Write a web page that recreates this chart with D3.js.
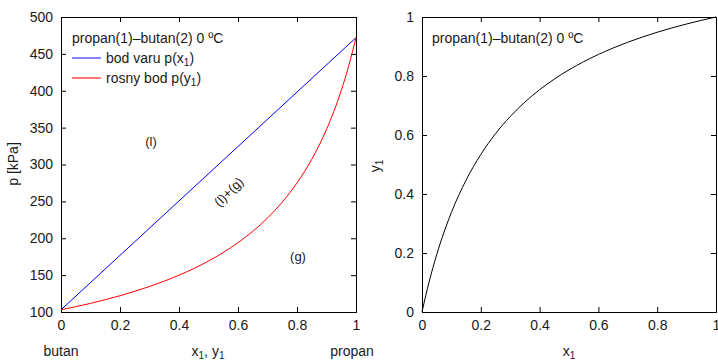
<!DOCTYPE html>
<html>
<head>
<meta charset="utf-8">
<script src="https://cdn.jsdelivr.net/npm/d3@7"></script>
<style>
  body { margin: 0; background: #fff; }
  svg text { font-family: "Liberation Sans", Arial, sans-serif; fill: #1a1a1a; }
</style>
</head>
<body>
<svg id="canvas"></svg>
<script>
// bubble line p(x1): straight line between pure-component pressures [kPa]
let bubbleX = [0, 1];
let bubbleP = [103, 472];

// dew line p(y1)
let dewY = [0, 0.05, 0.1, 0.15, 0.2, 0.25, 0.3, 0.35, 0.4, 0.45, 0.5, 0.55, 0.6, 0.65, 0.7, 0.75, 0.8, 0.85, 0.9, 0.95, 0.975, 1];
let dewP = [103, 107.2, 111.7, 116.7, 122.1, 128.0, 134.6, 141.8, 149.9, 158.9, 169.1, 180.7, 194.0, 209.4, 227.5, 249.0, 275.0, 307.0, 347.5, 400.3, 433.2, 472];

// y1 vs x1 curve
let eqX = [0, 0.0125, 0.025, 0.05, 0.1, 0.15, 0.2, 0.25, 0.3, 0.35, 0.4, 0.45, 0.5, 0.55, 0.6, 0.65, 0.7, 0.75, 0.8, 0.85, 0.9, 0.95, 1];
let eqY = [0, 0.0548, 0.1052, 0.1943, 0.3374, 0.4471, 0.5339, 0.6044, 0.6626, 0.7116, 0.7534, 0.7894, 0.8209, 0.8485, 0.8730, 0.8949, 0.9145, 0.9322, 0.9483, 0.9629, 0.9763, 0.9886, 1];

let xTicks = [0, 0.2, 0.4, 0.6, 0.8, 1];
let pTicks = [100, 150, 200, 250, 300, 350, 400, 450, 500];
let yTicks = [0, 0.2, 0.4, 0.6, 0.8, 1];

let width = 718;
let height = 362;
let fs = 14;

let svg = d3.select('#canvas').attr('width', width).attr('height', height);

let plotTop = 17, plotBottom = 312;

let fmt = (d) => d === 0 || d === 1 ? String(d) : d3.format('.1f')(d);

let drawFrame = (xScale, yScale, yvals, yfmt) => {
  let g = svg.append('g');
  let bx = d3.axisBottom(xScale).tickValues(xTicks).tickFormat(fmt).tickSize(-5).tickPadding(8);
  let tx = d3.axisTop(xScale).tickValues(xTicks).tickFormat('').tickSize(-5);
  let ly = d3.axisLeft(yScale).tickValues(yvals).tickFormat(yfmt).tickSize(-5).tickPadding(8);
  let ry = d3.axisRight(yScale).tickValues(yvals).tickFormat('').tickSize(-5);
  let [x0, x1] = xScale.range();
  g.append('g').attr('transform', 'translate(0,' + plotBottom + ')').call(bx);
  g.append('g').attr('transform', 'translate(0,' + plotTop + ')').call(tx);
  g.append('g').attr('transform', 'translate(' + x0 + ',0)').call(ly);
  g.append('g').attr('transform', 'translate(' + x1 + ',0)').call(ry);
  g.selectAll('.domain').attr('stroke', '#000').attr('stroke-width', 1);
  g.selectAll('.tick line').attr('stroke', '#000');
  g.selectAll('.tick text').attr('font-size', fs).attr('fill', '#1a1a1a')
    .style('font-family', '"Liberation Sans", Arial, sans-serif');
  return g;
};

// ---- left panel: p-x-y diagram
let xL = d3.scaleLinear().domain([0, 1]).range([61, 356]);
let pL = d3.scaleLinear().domain([100, 500]).range([plotBottom, plotTop]);

drawFrame(xL, pL, pTicks, d3.format('d'));

let line = d3.line().x((d) => xL(d[0])).y((d) => pL(d[1]));
let dewLine = d3.line().curve(d3.curveMonotoneX).x((d) => xL(d[0])).y((d) => pL(d[1]));

svg.append('path')
  .datum(bubbleX.map((x, i) => [x, bubbleP[i]]))
  .attr('d', line).attr('fill', 'none').attr('stroke', '#0000ff').attr('stroke-width', 1);

svg.append('path')
  .datum(dewY.map((y, i) => [y, dewP[i]]))
  .attr('d', dewLine).attr('fill', 'none').attr('stroke', '#ff0000').attr('stroke-width', 1);

// legend
svg.append('text').attr('x', 72).attr('y', 43).attr('font-size', fs).text('propan(1)–butan(2) 0 ºC');
svg.append('line').attr('x1', 72).attr('x2', 101).attr('y1', 58).attr('y2', 58).attr('stroke', '#3333ff').attr('stroke-width', 1.2);
let t1 = svg.append('text').attr('x', 106).attr('y', 63).attr('font-size', fs);
t1.append('tspan').text('bod varu p(x');
t1.append('tspan').attr('font-size', 10).attr('dy', 3).text('1');
t1.append('tspan').attr('dy', -3).text(')');
svg.append('line').attr('x1', 72).attr('x2', 101).attr('y1', 78).attr('y2', 78).attr('stroke', '#ff2222').attr('stroke-width', 1.2);
let t2 = svg.append('text').attr('x', 106).attr('y', 83).attr('font-size', fs);
t2.append('tspan').text('rosny bod p(y');
t2.append('tspan').attr('font-size', 10).attr('dy', 3).text('1');
t2.append('tspan').attr('dy', -3).text(')');

// region labels
svg.append('text').attr('x', 151).attr('y', 146).attr('font-size', 13).attr('text-anchor', 'middle').text('(l)');
svg.append('text').attr('transform', 'translate(232,195) rotate(-45)').attr('font-size', 13)
  .attr('text-anchor', 'middle').text('(l)+(g)');
svg.append('text').attr('x', 298).attr('y', 261).attr('font-size', 13).attr('text-anchor', 'middle').text('(g)');

// axis labels
svg.append('text').attr('transform', 'translate(18,164) rotate(-90)').attr('font-size', fs)
  .attr('text-anchor', 'middle').text('p [kPa]');
svg.append('text').attr('x', 61).attr('y', 356).attr('font-size', fs).attr('text-anchor', 'middle').text('butan');
svg.append('text').attr('x', 352).attr('y', 356).attr('font-size', fs).attr('text-anchor', 'middle').text('propan');
let xl = svg.append('text').attr('x', 208).attr('y', 356).attr('font-size', fs).attr('text-anchor', 'middle');
xl.append('tspan').text('x');
xl.append('tspan').attr('font-size', 10).attr('dy', 3).text('1');
xl.append('tspan').attr('dy', -3).text(', y');
xl.append('tspan').attr('font-size', 10).attr('dy', 3).text('1');

// ---- right panel: y-x diagram
let xR = d3.scaleLinear().domain([0, 1]).range([422, 716]);
let yR = d3.scaleLinear().domain([0, 1]).range([plotBottom, plotTop]);

drawFrame(xR, yR, yTicks, fmt);

svg.append('path')
  .datum(eqX.map((x, i) => [x, eqY[i]]))
  .attr('d', d3.line().curve(d3.curveMonotoneX).x((d) => xR(d[0])).y((d) => yR(d[1])))
  .attr('fill', 'none').attr('stroke', '#000').attr('stroke-width', 1);

svg.append('text').attr('x', 432).attr('y', 43).attr('font-size', fs).text('propan(1)–butan(2) 0 ºC');

let yl = svg.append('text').attr('transform', 'translate(380,166) rotate(-90)').attr('font-size', fs)
  .attr('text-anchor', 'middle');
yl.append('tspan').text('y');
yl.append('tspan').attr('font-size', 10).attr('dy', 3).text('1');

let xr = svg.append('text').attr('x', 569).attr('y', 356).attr('font-size', fs).attr('text-anchor', 'middle');
xr.append('tspan').text('x');
xr.append('tspan').attr('font-size', 10).attr('dy', 3).text('1');
</script>
</body>
</html>
